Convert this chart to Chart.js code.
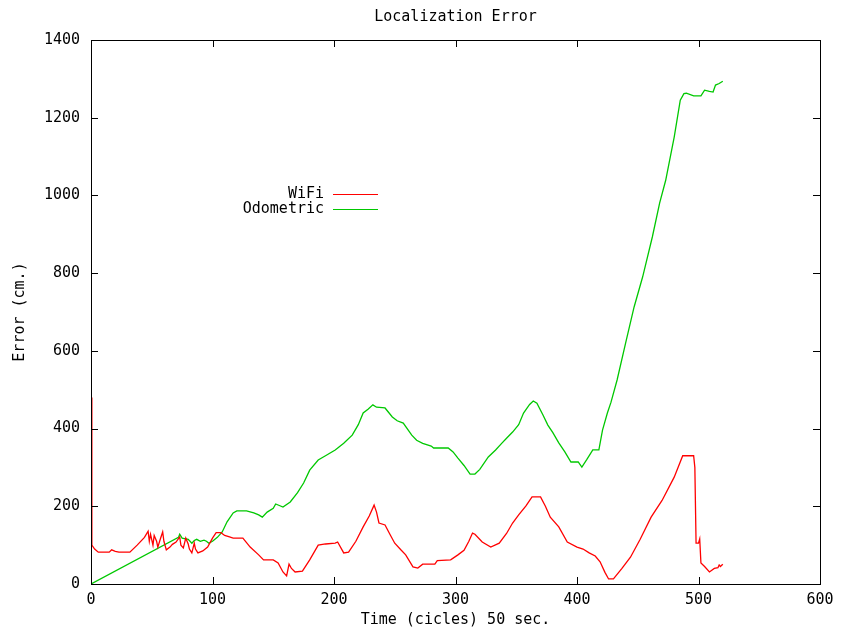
<!DOCTYPE html>
<html>
<head>
<meta charset="utf-8">
<script src="https://cdn.jsdelivr.net/npm/chart.js@4.4.0/dist/chart.umd.min.js"></script>
<style>
html,body{margin:0;padding:0;background:#fff;}
canvas{display:block;}
</style>
</head>
<body>
<canvas id="c" width="842" height="629"></canvas>
<script>
// ---- data ----
const chartTitle = "Localization Error";
const xAxisTitle = "Time (cicles) 50 sec.";
const yAxisTitle = "Error (cm.)";
const seriesNames = ["WiFi", "Odometric"];
const xTicks = [0, 100, 200, 300, 400, 500, 600];
const yTicks = [0, 200, 400, 600, 800, 1000, 1200, 1400];

const wifiX = [0.4, 0.7, 3, 6, 15, 17, 20, 23, 32, 38, 44, 47, 48, 49, 51, 52, 54, 55, 57, 59, 60, 62, 65, 67, 70, 73, 74, 76, 78, 80, 81, 83, 85, 86, 88, 92, 96, 100, 103, 107, 110, 114, 117, 125, 131, 138, 142, 150, 154, 158, 161, 163, 165, 168, 174, 180, 187, 193, 201, 203, 208, 212, 218, 224, 229, 233, 235, 237, 242, 246, 250, 255, 259, 265, 269, 273, 283, 285, 296, 302, 307, 311, 314, 316, 322, 329, 336, 342, 347, 352, 358, 363, 370, 374, 378, 385, 392, 400, 405, 410, 415, 419, 423, 426, 430, 437, 444, 452, 461, 470, 480, 487, 496, 497, 498, 500, 501, 502, 505, 509, 513, 516, 517, 518, 520];
const wifiY = [480, 100, 90, 82, 82, 88, 84, 82, 82, 100, 120, 136, 110, 128, 100, 125, 110, 95, 115, 134, 110, 88, 95, 102, 108, 121, 100, 93, 118, 103, 90, 80, 105, 90, 80, 85, 95, 118, 132, 132, 125, 121, 118, 118, 95, 75, 62, 62, 54, 31, 21, 51, 40, 31, 33, 62, 100, 103, 105, 108, 80, 82, 110, 147, 175, 203, 185, 157, 152, 128, 105, 88, 75, 44, 41, 51, 51, 60, 62, 75, 87, 110, 131, 128, 108, 95, 105, 130, 157, 178, 201, 224, 224, 200, 172, 147, 108, 95, 90, 80, 72, 57, 30, 13, 13, 40, 69, 115, 172, 215, 275, 330, 330, 300, 105, 105, 116, 54, 45, 31, 40, 42, 49, 45, 51];

const odoX = [0, 72, 73, 75, 80, 83, 85, 87, 90, 93, 95, 97, 100, 104, 108, 112, 117, 120, 128, 134, 138, 141, 145, 150, 152, 155, 158, 164, 170, 175, 180, 187, 193, 201, 208, 215, 220, 224, 228, 232, 235, 242, 248, 252, 257, 264, 268, 273, 280, 282, 294, 298, 302, 307, 312, 316, 320, 327, 333, 338, 342, 347, 352, 356, 361, 364, 367, 372, 376, 380, 385, 390, 395, 401, 404, 408, 413, 418, 421, 425, 428, 433, 440, 447, 454, 462, 468, 473, 480, 485, 488, 490, 496, 502, 505, 509, 512, 514, 517, 520];
const odoY = [0, 120, 128, 118, 115, 105, 112, 115, 110, 113, 110, 105, 110, 120, 134, 160, 183, 188, 188, 183, 178, 172, 185, 195, 206, 202, 198, 211, 235, 260, 293, 319, 330, 345, 362, 383, 410, 440, 450, 461, 455, 453, 430, 420, 414, 383, 370, 362, 355, 350, 350, 340, 324, 305, 283, 283, 295, 327, 345, 362, 375, 391, 410, 440, 462, 471, 465, 435, 409, 390, 363, 340, 314, 314, 301, 320, 345, 345, 396, 440, 468, 525, 620, 713, 790, 893, 980, 1039, 1150, 1245, 1262, 1263, 1256, 1256, 1271, 1268, 1266, 1284, 1288, 1294];

const colors = ["#ff0000", "#00c800"];
const FONT = "DejaVu Sans Mono";
const FS = 15;

function pts(xs, ys){ return xs.map((x,i)=>({x:x, y:ys[i]})); }

const overlay = {
  id: 'overlay',
  afterDraw(chart){
    const ctx = chart.ctx, a = chart.chartArea;
    const xs = chart.scales.x, ys = chart.scales.y;
    ctx.save();
    ctx.strokeStyle = '#000';
    ctx.lineWidth = 1;
    ctx.strokeRect(Math.round(a.left)+0.5, Math.round(a.top)+0.5, Math.round(a.right-a.left), Math.round(a.bottom-a.top));
    const TL = 7;
    ctx.beginPath();
    xTicks.forEach(v=>{
      const px = Math.round(xs.getPixelForValue(v))+0.5;
      ctx.moveTo(px, a.bottom); ctx.lineTo(px, a.bottom-TL);
      ctx.moveTo(px, a.top); ctx.lineTo(px, a.top+TL);
    });
    yTicks.forEach(v=>{
      const py = Math.round(ys.getPixelForValue(v))+0.5;
      ctx.moveTo(a.left, py); ctx.lineTo(a.left+TL, py);
      ctx.moveTo(a.right, py); ctx.lineTo(a.right-TL, py);
    });
    ctx.stroke();
    ctx.fillStyle = '#000';
    ctx.font = FS + 'px "' + FONT + '"';
    ctx.textAlign = 'center';
    ctx.textBaseline = 'middle';
    ctx.fillText(chartTitle, (a.left+a.right)/2, 17);
    ctx.fillText(xAxisTitle, (a.left+a.right)/2, 620);
    ctx.save();
    ctx.translate(20, (a.top+a.bottom)/2);
    ctx.rotate(-Math.PI/2);
    ctx.fillText(yAxisTitle, 0, 0);
    ctx.restore();
    ctx.textAlign = 'right';
    const ly = [194, 209];
    seriesNames.forEach((n,i)=>{
      ctx.fillStyle = '#000';
      ctx.fillText(n, 324, ly[i]);
      ctx.strokeStyle = colors[i];
      ctx.beginPath();
      ctx.moveTo(333, ly[i]+0.5); ctx.lineTo(378, ly[i]+0.5);
      ctx.stroke();
    });
    ctx.restore();
  }
};

new Chart(document.getElementById('c'), {
  type: 'line',
  data: {
    datasets: [
      {label: seriesNames[0], data: pts(wifiX, wifiY), borderColor: colors[0], borderWidth: 1.3, pointRadius: 0, tension: 0, fill: false},
      {label: seriesNames[1], data: pts(odoX, odoY), borderColor: colors[1], borderWidth: 1.3, pointRadius: 0, tension: 0, fill: false}
    ]
  },
  options: {
    responsive: false,
    animation: false,
    layout: {padding: {left: 0, right: 22, top: 40, bottom: 0}},
    plugins: {legend: {display: false}, title: {display: false}, tooltip: {enabled: false}},
    scales: {
      x: {
        type: 'linear', min: 0, max: 600,
        afterBuildTicks(s){ s.ticks = xTicks.map(v=>({value:v})); },
        afterFit(s){ s.height = 45; },
        grid: {display: false, drawTicks: false},
        border: {display: false},
        ticks: {color: '#000', font: {family: FONT, size: FS}, padding: 7, maxRotation: 0, autoSkip: false,
                callback: v => String(v)}
      },
      y: {
        type: 'linear', min: 0, max: 1400,
        afterBuildTicks(s){ s.ticks = yTicks.map(v=>({value:v})); },
        afterFit(s){ s.width = 91; },
        grid: {display: false, drawTicks: false},
        border: {display: false},
        ticks: {color: '#000', font: {family: FONT, size: FS}, padding: 11, autoSkip: false,
                callback: v => String(v)}
      }
    }
  },
  plugins: [overlay]
});
</script>
</body>
</html>
